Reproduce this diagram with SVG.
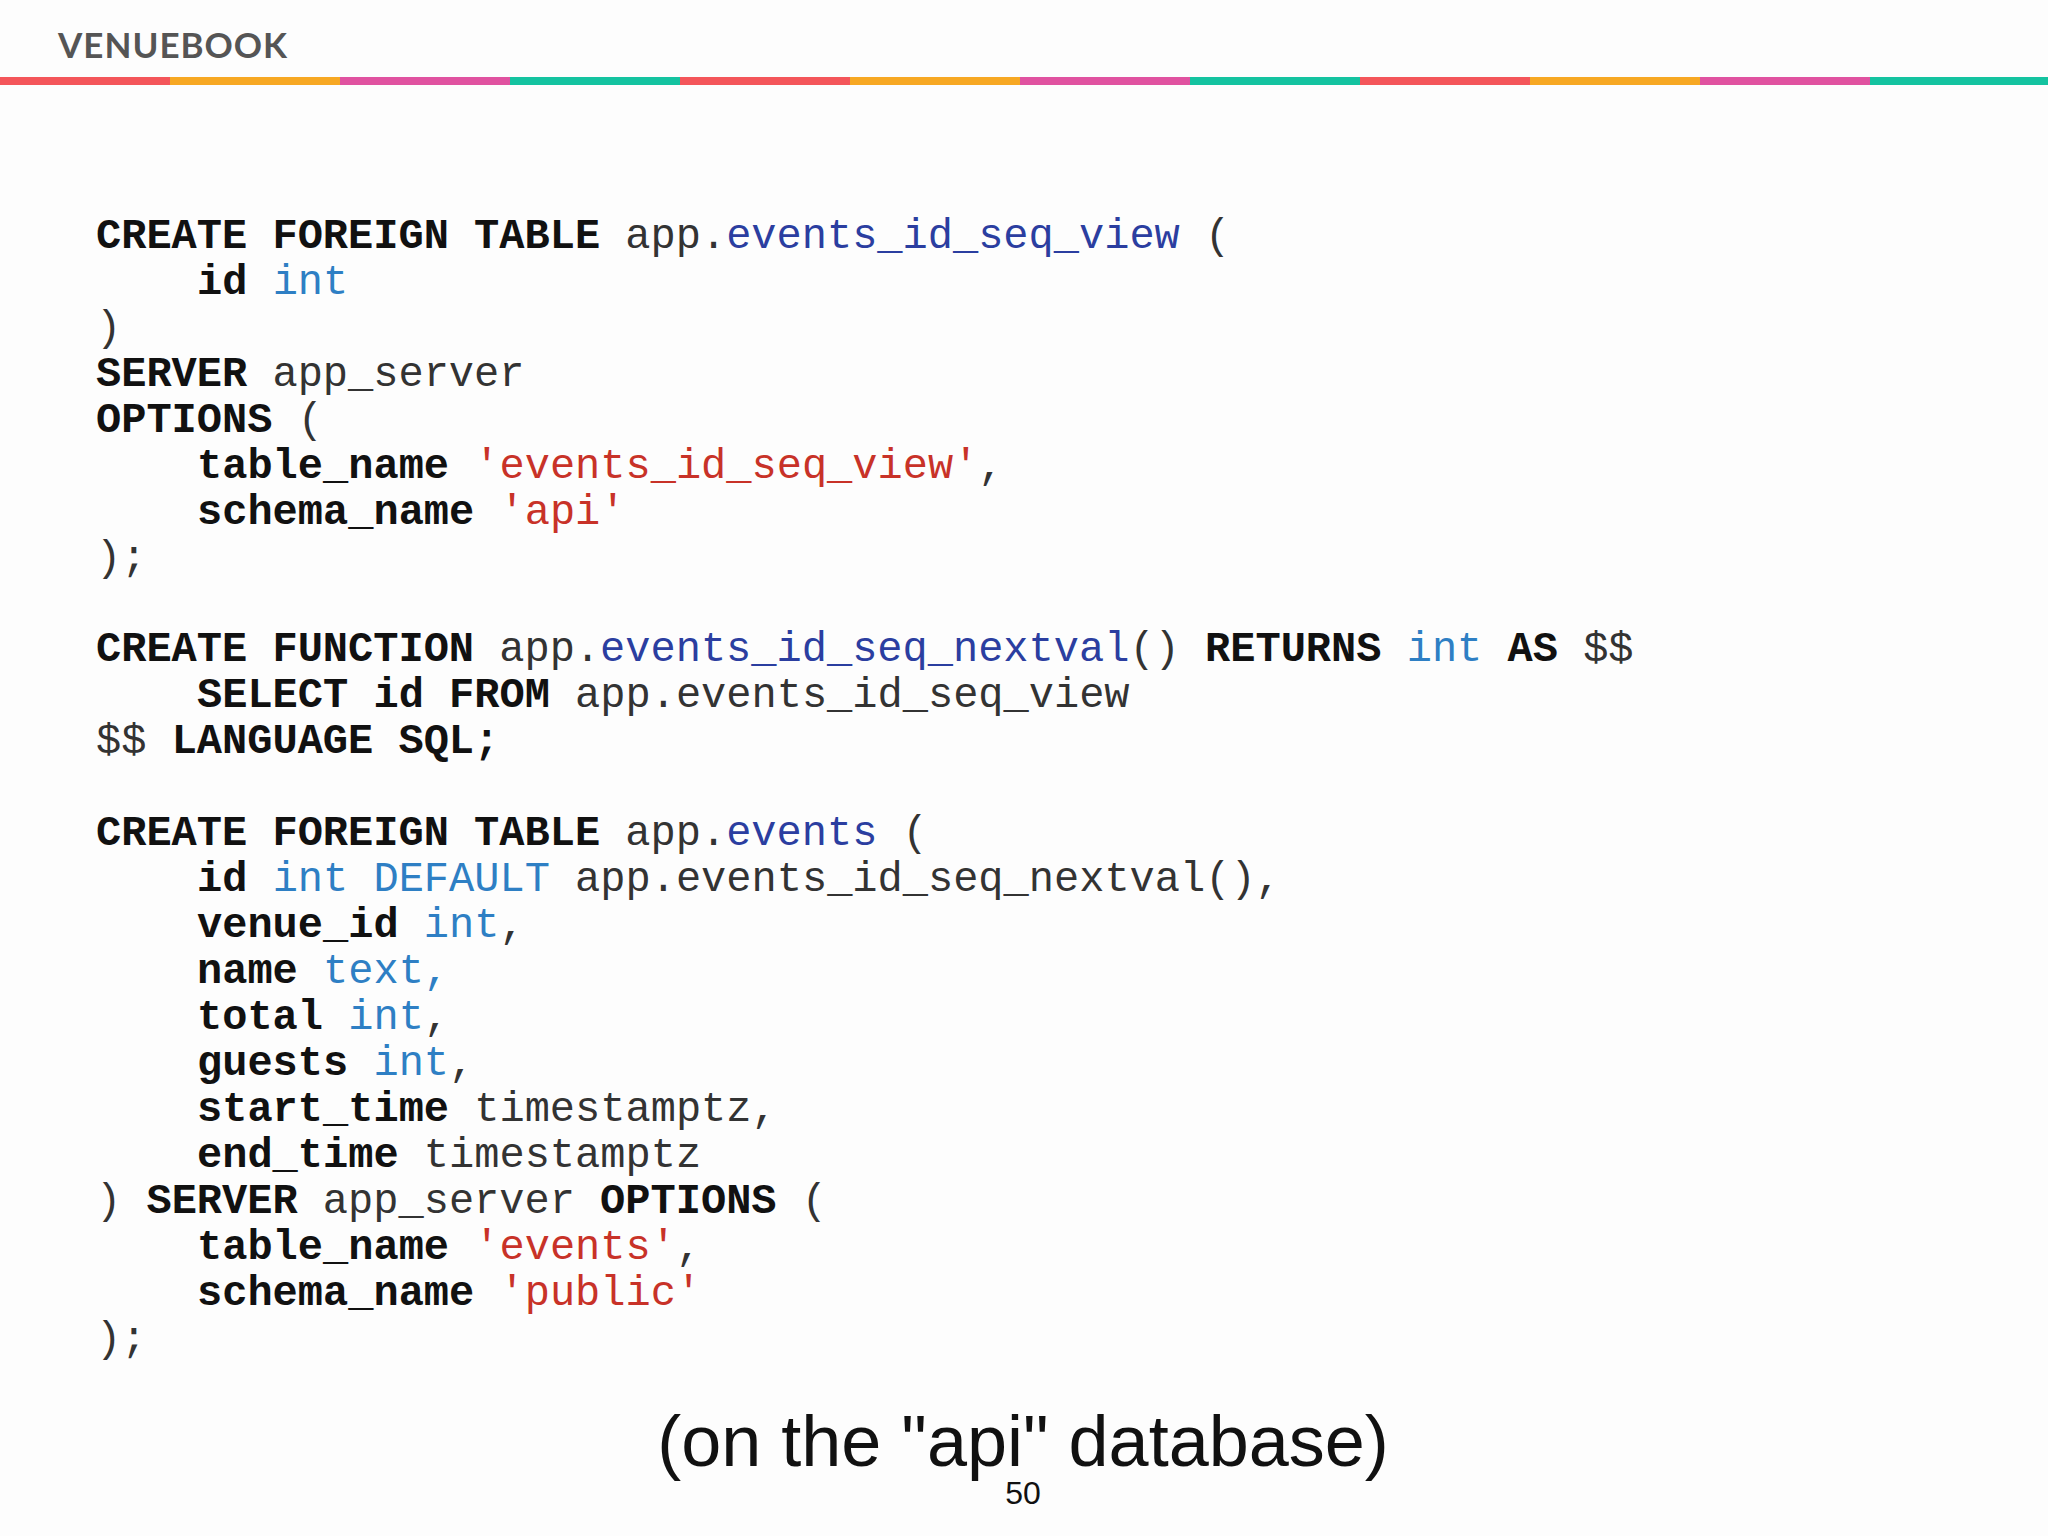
<svg xmlns="http://www.w3.org/2000/svg" width="2048" height="1536" viewBox="0 0 2048 1536">
<style>
.c{font-family:"Liberation Mono","Courier New",monospace;font-size:42px;fill:#333}
.k{font-weight:bold;fill:#111}
.i{fill:#2b3ea0}
.t{fill:#2e7fc4}
.s{fill:#c83228}
</style>
<rect width="2048" height="1536" fill="#fdfdfd"/>
<g id="header">
<text x="58" y="58" font-family="Lato,'Liberation Sans',sans-serif" font-weight="bold" font-size="35" fill="#555" letter-spacing="1">VENUEBOOK</text>
<rect x="0" y="77" width="170" height="8" fill="#f4565a"/>
<rect x="170" y="77" width="170" height="8" fill="#f7a823"/>
<rect x="340" y="77" width="170" height="8" fill="#e052a0"/>
<rect x="510" y="77" width="170" height="8" fill="#14c3a0"/>
<rect x="680" y="77" width="170" height="8" fill="#f4565a"/>
<rect x="850" y="77" width="170" height="8" fill="#f7a823"/>
<rect x="1020" y="77" width="170" height="8" fill="#e052a0"/>
<rect x="1190" y="77" width="170" height="8" fill="#14c3a0"/>
<rect x="1360" y="77" width="170" height="8" fill="#f4565a"/>
<rect x="1530" y="77" width="170" height="8" fill="#f7a823"/>
<rect x="1700" y="77" width="170" height="8" fill="#e052a0"/>
<rect x="1870" y="77" width="178" height="8" fill="#14c3a0"/>
</g>
<g id="code" class="c">
<text x="96" y="248"><tspan class="k">CREATE FOREIGN TABLE</tspan> app.<tspan class="i">events_id_seq_view</tspan> (</text>
<text x="197" y="294"><tspan class="k">id</tspan> <tspan class="t">int</tspan></text>
<text x="96" y="340">)</text>
<text x="96" y="386"><tspan class="k">SERVER</tspan> app_server</text>
<text x="96" y="432"><tspan class="k">OPTIONS</tspan> (</text>
<text x="197" y="478"><tspan class="k">table_name</tspan> <tspan class="s">'events_id_seq_view'</tspan>,</text>
<text x="197" y="524"><tspan class="k">schema_name</tspan> <tspan class="s">'api'</tspan></text>
<text x="96" y="570">);</text>
<text x="96" y="661"><tspan class="k">CREATE FUNCTION</tspan> app.<tspan class="i">events_id_seq_nextval</tspan>() <tspan class="k">RETURNS</tspan> <tspan class="t">int</tspan> <tspan class="k">AS</tspan> $$</text>
<text x="197" y="707"><tspan class="k">SELECT id FROM</tspan> app.events_id_seq_view</text>
<text x="96" y="753">$$ <tspan class="k">LANGUAGE SQL;</tspan></text>
<text x="96" y="845"><tspan class="k">CREATE FOREIGN TABLE</tspan> app.<tspan class="i">events</tspan> (</text>
<text x="197" y="891"><tspan class="k">id</tspan> <tspan class="t">int DEFAULT</tspan> app.events_id_seq_nextval(),</text>
<text x="197" y="937"><tspan class="k">venue_id</tspan> <tspan class="t">int</tspan>,</text>
<text x="197" y="983"><tspan class="k">name</tspan> <tspan class="t">text,</tspan></text>
<text x="197" y="1029"><tspan class="k">total</tspan> <tspan class="t">int</tspan>,</text>
<text x="197" y="1075"><tspan class="k">guests</tspan> <tspan class="t">int</tspan>,</text>
<text x="197" y="1121"><tspan class="k">start_time</tspan> timestamptz,</text>
<text x="197" y="1167"><tspan class="k">end_time</tspan> timestamptz</text>
<text x="96" y="1213">) <tspan class="k">SERVER</tspan> app_server <tspan class="k">OPTIONS</tspan> (</text>
<text x="197" y="1259"><tspan class="k">table_name</tspan> <tspan class="s">'events'</tspan>,</text>
<text x="197" y="1305"><tspan class="k">schema_name</tspan> <tspan class="s">'public'</tspan></text>
<text x="96" y="1351">);</text>
</g>
<g id="footer" font-family="'Liberation Sans',Arial,sans-serif" text-anchor="middle" fill="#111">
<text x="1023" y="1466" font-size="72">(on the "api" database)</text>
<text x="1023" y="1504" font-size="32">50</text>
</g>
</svg>
